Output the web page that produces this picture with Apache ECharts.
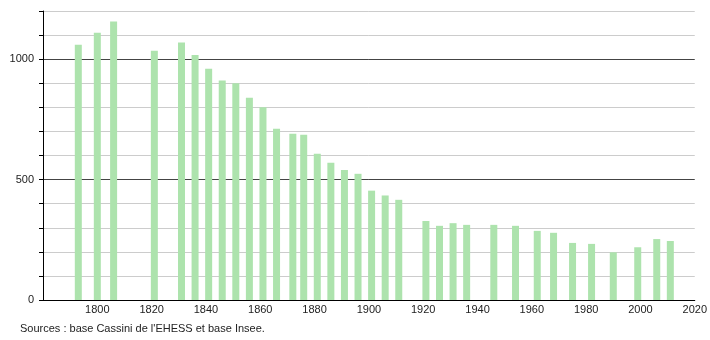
<!DOCTYPE html>
<html>
<head>
<meta charset="utf-8">
<script src="https://cdn.jsdelivr.net/npm/echarts@6/dist/echarts.min.js"></script>
<style>
html,body{margin:0;padding:0;background:#fff;}
#c{width:710px;height:340px;}
</style>
</head>
<body>
<div id="c"></div>
<script>
const years = [1793,1800,1806,1821,1831,1836,1841,1846,1851,1856,1861,1866,1872,1876,1881,1886,1891,1896,1901,1906,1911,1921,1926,1931,1936,1946,1954,1962,1968,1975,1982,1990,1999,2006,2011];
const population = [1060,1110,1156,1035,1069,1017,960,911,900,840,800,711,690,686,607,570,540,524,454,434,416,328,308,319,312,312,308,287,279,237,233,198,219,253,245];
const yLabels = [0,500,1000];
const sourceText = "Sources : base Cassini de l'EHESS et base Insee.";

const chart = echarts.init(document.getElementById('c'), null, {renderer:'canvas'});
const font = 'Liberation Sans, Arial, sans-serif';
chart.setOption({
  animation:false,
  grid:{left:43,right:10,top:11,bottom:40,containLabel:false},
  xAxis:{
    type:'value',min:1780,max:2020,interval:20,
    axisLine:{lineStyle:{color:'#000',width:1}},
    axisTick:{show:false},
    splitLine:{show:false},
    axisLabel:{showMinLabel:false,color:'#222',fontSize:11,fontFamily:font,margin:4,
      formatter:function(v){return String(v);}}
  },
  yAxis:{
    type:'value',min:0,max:1200,interval:100,
    axisLine:{show:true,lineStyle:{color:'#000',width:1}},
    axisTick:{show:true,length:4,lineStyle:{color:'#000'}},
    splitLine:{show:true,lineStyle:{color:['#444','#cccccc','#cccccc','#cccccc','#cccccc'],width:1}},
    axisLabel:{color:'#222',fontSize:11,fontFamily:font,margin:9,
      formatter:function(v){return yLabels.indexOf(v)>=0?String(v):'';}}
  },
  series:[{
    type:'bar',
    barWidth:7,
    data:years.map((y,i)=>[y,population[i]]),
    itemStyle:{color:'#ade3ad'}
  }],
  graphic:[{
    type:'text',left:20,top:323,
    style:{text:sourceText,fill:'#222',font:'11px '+font}
  }]
});
</script>
</body>
</html>
